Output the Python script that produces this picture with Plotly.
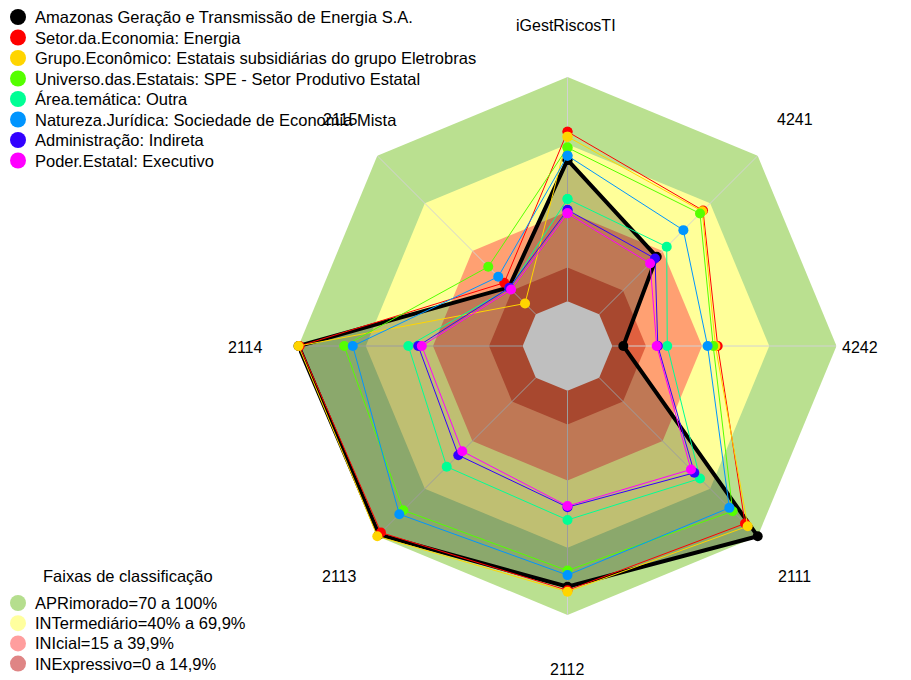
import plotly.graph_objects as go

# Dimensions of the radar (clockwise from the top)
axes_labels = ["iGestRiscosTI", "4241", "4242", "2111", "2112", "2113", "2114", "2115"]

series_names = [
    "Amazonas Geração e Transmissão de Energia S.A.",
    "Setor.da.Economia: Energia",
    "Grupo.Econômico: Estatais subsidiárias do grupo Eletrobras",
    "Universo.das.Estatais: SPE - Setor Produtivo Estatal",
    "Área.temática: Outra",
    "Natureza.Jurídica: Sociedade de Economia Mista",
    "Administração: Indireta",
    "Poder.Estatal: Executivo",
]
series_colors = ["#000000", "#FF0000", "#FFD500", "#55FF00",
                 "#00FF95", "#0095FF", "#3300FF", "#FF00FF"]

amazonas = [63.0, 36.3, 4.9, 100.0, 87.4, 99.0, 100.0, 17.0]
setor = [75.6, 65.5, 47.0, 92.0, 89.0, 97.7, 99.5, 19.9]
grupo = [73.4, 65.0, 46.0, 93.7, 89.6, 100.0, 100.0, 6.8]
universo = [68.5, 63.6, 45.0, 84.2, 80.2, 83.6, 79.6, 30.0]
area = [45.6, 42.6, 24.5, 63.6, 57.6, 56.2, 51.0, 16.5]
natureza = [64.9, 53.1, 42.5, 82.1, 82.2, 86.1, 75.8, 23.7]
administracao = [40.7, 35.2, 20.3, 60.0, 51.9, 48.9, 46.6, 16.7]
poder = [39.2, 32.1, 19.8, 57.9, 51.4, 46.4, 45.0, 15.6]
series_values = [amazonas, setor, grupo, universo, area, natureza, administracao, poder]

# Classification bands (upper limit of each band)
band_names = ["APRimorado=70 a 100%", "INTermediário=40% a 69,9%",
              "INIcial=15 a 39,9%", "INExpressivo=0 a 14,9%"]
band_limits = [100, 70, 40, 15]
band_fill = ["#BAE090", "#FFFF99", "#FFA072", "#E0603F"]
band_legend_colors = ["#B5DE8E", "#FFFF9E", "#FF9E9E", "#DF8585"]
legend_title = "Faixas de classificação"

R_MIN, R_MAX = -20, 100
W, H = 911, 680
CX, CY, RAD = 567.5, 346, 269

FONT = "Liberation Sans, Arial, sans-serif"

fig = go.Figure()


def closed(vals):
    return list(vals) + [vals[0]]


theta_closed = closed(axes_labels)

# Background bands
for lim, col in zip(band_limits, band_fill):
    fig.add_trace(go.Scatterpolar(
        r=[lim] * (len(axes_labels) + 1), theta=theta_closed,
        mode="lines", fill="toself", fillcolor=col,
        line=dict(width=0, color=col), hoverinfo="skip", showlegend=False))
# inner ring (below zero) left blank
fig.add_trace(go.Scatterpolar(
    r=[0] * (len(axes_labels) + 1), theta=theta_closed,
    mode="lines", fill="toself", fillcolor="#FFFFFF",
    line=dict(width=0, color="#FFFFFF"), hoverinfo="skip", showlegend=False))

# Spokes from 0 to 100
spoke_r, spoke_t = [], []
for lab in axes_labels:
    spoke_r += [0, 100, None]
    spoke_t += [lab, lab, None]
fig.add_trace(go.Scatterpolar(
    r=spoke_r, theta=spoke_t, mode="lines",
    line=dict(color="#D2D2D2", width=1), hoverinfo="skip", showlegend=False))

# Data series
for i, (name, vals, col) in enumerate(zip(series_names, series_values, series_colors)):
    main = i == 0
    fig.add_trace(go.Scatterpolar(
        r=closed(vals), theta=theta_closed, name=name,
        mode="lines+markers",
        fill="toself" if main else "none",
        fillcolor="rgba(0,0,0,0.25)" if main else None,
        line=dict(color=col, width=4 if main else 1),
        marker=dict(color=col, size=10),
        showlegend=False))

# Legend drawn on a pixel-coordinate overlay
leg_x_marker, leg_x_text = 18, 33
series_leg_y = [17 + 20.5 * k for k in range(len(series_names))]
fig.add_trace(go.Scatter(
    x=[leg_x_marker] * len(series_names), y=series_leg_y, mode="markers",
    marker=dict(size=16, color=series_colors, line=dict(width=0)),
    hoverinfo="skip", showlegend=False, xaxis="x", yaxis="y"))
band_leg_y = [603 + 20.2 * k for k in range(len(band_names))]
fig.add_trace(go.Scatter(
    x=[leg_x_marker] * len(band_names), y=band_leg_y, mode="markers",
    marker=dict(size=16, color=band_legend_colors, line=dict(width=0)),
    hoverinfo="skip", showlegend=False, xaxis="x", yaxis="y"))

annotations = []
for name, y in zip(series_names, series_leg_y):
    annotations.append(dict(x=leg_x_text, y=y, text=name, xref="x", yref="y",
                            xanchor="left", yanchor="middle", showarrow=False,
                            font=dict(size=16.5, color="#000000", family=FONT)))
annotations.append(dict(x=128, y=576, text=legend_title, xref="x", yref="y",
                        xanchor="center", yanchor="middle", showarrow=False,
                        font=dict(size=16.5, color="#000000", family=FONT)))
for name, y in zip(band_names, band_leg_y):
    annotations.append(dict(x=leg_x_text, y=y, text=name, xref="x", yref="y",
                            xanchor="left", yanchor="middle", showarrow=False,
                            font=dict(size=16.5, color="#000000", family=FONT)))

# Axis labels around the radar
label_pos = [(566, 25), (795, 119), (860, 347), (794, 576),
             (567, 669), (339, 576), (245, 347), (340, 119)]
for lab, (px, py) in zip(axes_labels, label_pos):
    annotations.append(dict(x=px, y=py, text=lab, xref="x", yref="y",
                            xanchor="center", yanchor="middle", showarrow=False,
                            font=dict(size=16, color="#000000", family=FONT)))

fig.update_layout(
    width=W, height=H,
    margin=dict(l=0, r=0, t=0, b=0),
    paper_bgcolor="#FFFFFF", plot_bgcolor="rgba(0,0,0,0)",
    showlegend=False,
    font=dict(family=FONT, size=16, color="#000000"),
    polar=dict(
        domain=dict(x=[(CX - RAD) / W, (CX + RAD) / W],
                    y=[(H - CY - RAD) / H, (H - CY + RAD) / H]),
        bgcolor="#FFFFFF",
        radialaxis=dict(range=[R_MIN, R_MAX], visible=False, showgrid=False),
        angularaxis=dict(rotation=90, direction="clockwise", type="category",
                         categoryarray=axes_labels,
                         showgrid=False, showline=False, showticklabels=False,
                         ticks=""),
    ),
    xaxis=dict(range=[0, W], domain=[0, 1], visible=False, fixedrange=True),
    yaxis=dict(range=[H, 0], domain=[0, 1], visible=False, fixedrange=True),
    annotations=annotations,
)

fig.write_html("out.html")
